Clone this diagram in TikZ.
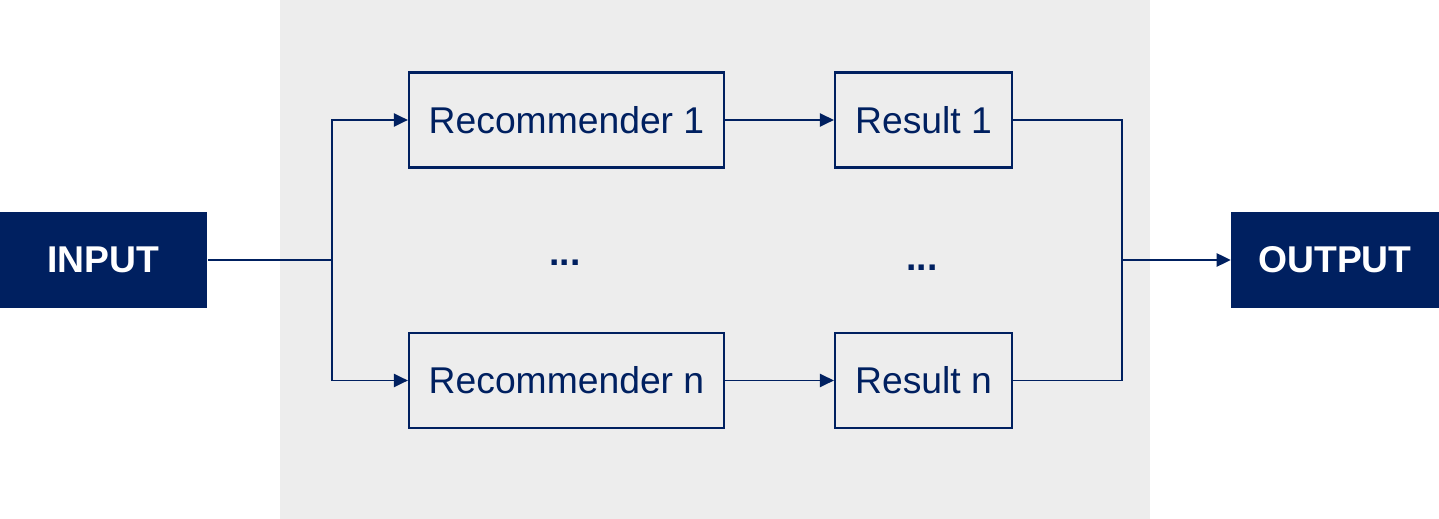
\documentclass[tikz,border=0pt]{standalone}
\usepackage{fontspec}
\setmainfont{Liberation Sans}
\usepackage{xcolor}
\usetikzlibrary{arrows.meta}
\definecolor{navy}{HTML}{002060}
\definecolor{panel}{HTML}{EDEDED}

\begin{document}
\begin{tikzpicture}[x=0.01cm,y=-0.01cm,
  >={Triangle[length=4pt,width=3.8pt]},
  line width=0.4pt,
  every node/.style={font=\fontsize{10.6}{12}\selectfont},
  io/.style={fill=navy,text=white,font=\fontsize{10.6}{12}\selectfont\bfseries,
    minimum width=2.07cm,minimum height=0.96cm,inner sep=0pt},
  recbox/.style={draw=navy,line width=0.6pt,text=navy,
    minimum height=0.95cm,inner sep=0pt}]
\useasboundingbox (0,0) rectangle (1439,519);
\fill[white] (0,0) rectangle (1439,519);
\fill[panel] (280,0) rectangle (1150,519);
\node[io] (IN) at (103.5,260) {INPUT};
\node[io] (OUT) at (1335,260) {OUTPUT};
\node[recbox,minimum width=3.15cm] (R1) at (566.5,120) {Recommender 1};
\node[recbox,minimum width=3.15cm] (Rn) at (566.5,380.5) {Recommender n};
\node[recbox,minimum width=1.77cm] (S1) at (923.5,120) {Result 1};
\node[recbox,minimum width=1.77cm] (Sn) at (923.5,380.5) {Result n};
\node[text=navy,font=\fontsize{10.6}{12}\selectfont\bfseries] (D1) at (565,263) {...};
\node[text=navy,font=\fontsize{10.6}{12}\selectfont\bfseries] (D2) at (922,268) {...};
\coordinate (split) at (332,260);
\coordinate (merge) at (1122,260);
\draw [navy] (IN) -- (split);
\draw [navy,->] (split) |- (R1.west);
\draw [navy,->] (split) |- (Rn.west);
\draw [navy,->] (R1) -- (S1);
\draw [navy,->] (Rn) -- (Sn);
\draw [navy] (S1.east) -| (merge);
\draw [navy] (Sn.east) -| (merge);
\draw [navy,->] (merge) -- (OUT);
\end{tikzpicture}
\end{document}
